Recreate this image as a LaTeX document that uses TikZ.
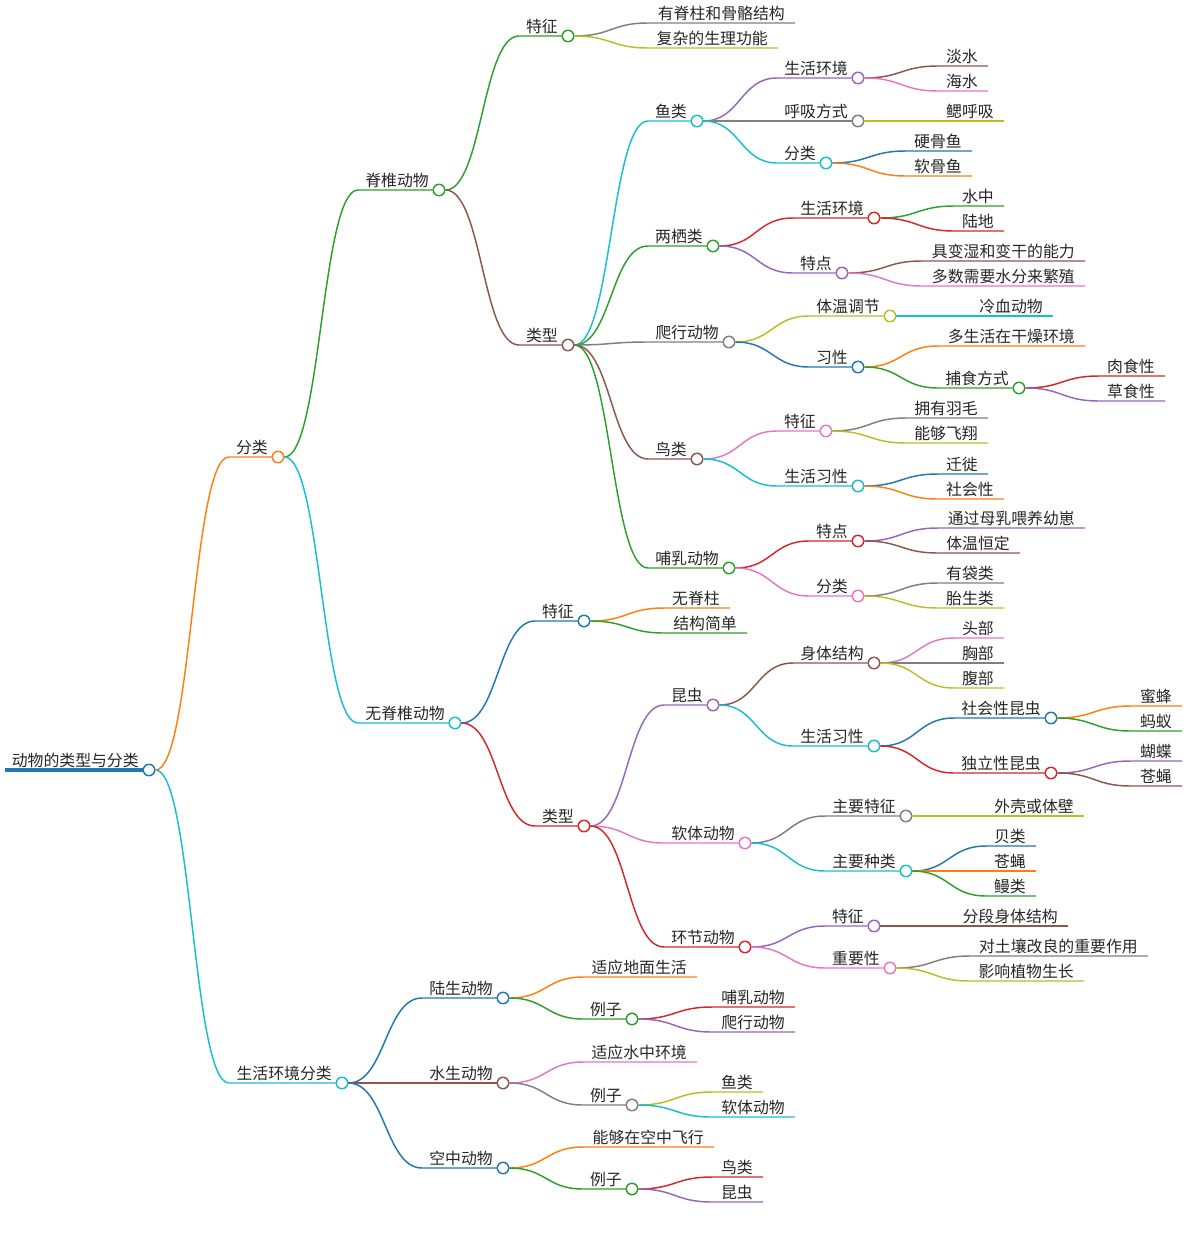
\documentclass[tikz,border=0pt]{standalone}
\usepackage{fontspec}
\setmainfont{Noto Sans CJK SC}
\usetikzlibrary{calc}
\definecolor{cblu}{HTML}{1F77B4}
\definecolor{corg}{HTML}{FF7F0E}
\definecolor{cgrn}{HTML}{2CA02C}
\definecolor{cred}{HTML}{D62728}
\definecolor{cpur}{HTML}{9467BD}
\definecolor{cbrn}{HTML}{8C564B}
\definecolor{cpnk}{HTML}{E377C2}
\definecolor{cgry}{HTML}{7F7F7F}
\definecolor{colv}{HTML}{BCBD22}
\definecolor{ccyn}{HTML}{17BECF}
\newcommand\mmbranch[7]{%
	\coordinate (#1-s) at (#4,#5);
	\draw[link=#3] let \p1=(#2.east),\p2=(#1-s) in (\p1) .. controls ({(\x1+\x2)/2},\y1) and ({(\x1+\x2)/2},\y2) .. (\p2) -- (#6-6,#5);
	\node[dot=#3] (#1) at (#6,#5) {};
	\node[lbl] (#1-t) at (#6-10,#5-3.5) {#7};}
\newcommand\mmleaf[7]{%
	\coordinate (#1-s) at (#4,#5);
	\draw[link=#3] let \p1=(#2.east),\p2=(#1-s) in (\p1) .. controls ({(\x1+\x2)/2},\y1) and ({(\x1+\x2)/2},\y2) .. (\p2) -- (#6,#5);
	\node[lbl] (#1) at (#6-10,#5-3.5) {#7};}

\begin{document}
\begin{tikzpicture}[x=0.75pt,y=-0.75pt,
	link/.style={draw=#1,line width=1.1pt},
	dot/.style={circle,draw=#1,fill=white,line width=1.1pt,minimum size=8.6pt,inner sep=0pt},
	lbl/.style={anchor=base east,inner sep=0pt,text=black!85,font=\fontsize{11.9pt}{14pt}\selectfont}]
	\useasboundingbox (0,0) rectangle (1187,1239);
	\coordinate (r-s) at (5,770);
	\draw[link=cblu,line width=3pt] (r-s) -- (143,770);
	\node[dot=cblu] (r) at (149,770) {};
	\node[lbl] (r-t) at (139,766.5) {动物的类型与分类};
	\mmbranch{r1}{r}{corg}{229}{457}{278}{分类}
	\mmbranch{r11}{r1}{cgrn}{358}{190}{439}{脊椎动物}
	\mmbranch{r111}{r11}{cgrn}{519}{36}{568}{特征}
	\mmleaf{r1111}{r111}{cgry}{648}{23}{795}{有脊柱和骨骼结构}
	\mmleaf{r1112}{r111}{colv}{648}{48}{778}{复杂的生理功能}
	\mmbranch{r112}{r11}{cbrn}{519}{345}{568}{类型}
	\mmbranch{r1121}{r112}{ccyn}{648}{121}{697}{鱼类}
	\mmbranch{r11211}{r1121}{cpur}{777}{78}{858}{生活环境}
	\mmleaf{r112111}{r11211}{cbrn}{938}{66}{988}{淡水}
	\mmleaf{r112112}{r11211}{cpnk}{938}{91}{988}{海水}
	\mmbranch{r11212}{r1121}{cgry}{777}{121}{858}{呼吸方式}
	\mmleaf{r112121}{r11212}{colv}{938}{121}{1004}{鳃呼吸}
	\mmbranch{r11213}{r1121}{ccyn}{777}{163}{826}{分类}
	\mmleaf{r112131}{r11213}{cblu}{906}{151}{972}{硬骨鱼}
	\mmleaf{r112132}{r11213}{corg}{906}{176}{972}{软骨鱼}
	\mmbranch{r1122}{r112}{cgrn}{648}{246}{713}{两栖类}
	\mmbranch{r11221}{r1122}{cred}{793}{218}{874}{生活环境}
	\mmleaf{r112211}{r11221}{cgrn}{954}{206}{1004}{水中}
	\mmleaf{r112212}{r11221}{cred}{954}{231}{1004}{陆地}
	\mmbranch{r11222}{r1122}{cpur}{793}{273}{842}{特点}
	\mmleaf{r112221}{r11222}{cbrn}{922}{261}{1085}{具变湿和变干的能力}
	\mmleaf{r112222}{r11222}{cpnk}{922}{286}{1085}{多数需要水分来繁殖}
	\mmbranch{r1123}{r112}{cgry}{648}{342}{729}{爬行动物}
	\mmbranch{r11231}{r1123}{colv}{809}{316}{890}{体温调节}
	\mmleaf{r112311}{r11231}{ccyn}{970}{316}{1053}{冷血动物}
	\mmbranch{r11232}{r1123}{cblu}{809}{367}{858}{习性}
	\mmleaf{r112321}{r11232}{corg}{938}{346}{1085}{多生活在干燥环境}
	\mmbranch{r112322}{r11232}{cgrn}{938}{388}{1019}{捕食方式}
	\mmleaf{r1123221}{r112322}{cred}{1099}{376}{1165}{肉食性}
	\mmleaf{r1123222}{r112322}{cpur}{1099}{401}{1165}{草食性}
	\mmbranch{r1124}{r112}{cbrn}{648}{459}{697}{鸟类}
	\mmbranch{r11241}{r1124}{cpnk}{777}{431}{826}{特征}
	\mmleaf{r112411}{r11241}{cgry}{906}{418}{988}{拥有羽毛}
	\mmleaf{r112412}{r11241}{colv}{906}{443}{988}{能够飞翔}
	\mmbranch{r11242}{r1124}{ccyn}{777}{486}{858}{生活习性}
	\mmleaf{r112421}{r11242}{cblu}{938}{474}{988}{迁徙}
	\mmleaf{r112422}{r11242}{corg}{938}{499}{1004}{社会性}
	\mmbranch{r1125}{r112}{cgrn}{648}{568}{729}{哺乳动物}
	\mmbranch{r11251}{r1125}{cred}{809}{541}{858}{特点}
	\mmleaf{r112511}{r11251}{cpur}{938}{528}{1085}{通过母乳喂养幼崽}
	\mmleaf{r112512}{r11251}{cbrn}{938}{553}{1020}{体温恒定}
	\mmbranch{r11252}{r1125}{cpnk}{809}{596}{858}{分类}
	\mmleaf{r112521}{r11252}{cgry}{938}{583}{1004}{有袋类}
	\mmleaf{r112522}{r11252}{colv}{938}{608}{1004}{胎生类}
	\mmbranch{r12}{r1}{ccyn}{358}{723}{455}{无脊椎动物}
	\mmbranch{r121}{r12}{cblu}{535}{621}{584}{特征}
	\mmleaf{r1211}{r121}{corg}{664}{608}{730}{无脊柱}
	\mmleaf{r1212}{r121}{cgrn}{664}{633}{747}{结构简单}
	\mmbranch{r122}{r12}{cred}{535}{826}{584}{类型}
	\mmbranch{r1221}{r122}{cpur}{664}{705}{713}{昆虫}
	\mmbranch{r12211}{r1221}{cbrn}{793}{663}{874}{身体结构}
	\mmleaf{r122111}{r12211}{cpnk}{954}{638}{1004}{头部}
	\mmleaf{r122112}{r12211}{cgry}{954}{663}{1004}{胸部}
	\mmleaf{r122113}{r12211}{colv}{954}{688}{1004}{腹部}
	\mmbranch{r12212}{r1221}{ccyn}{793}{746}{874}{生活习性}
	\mmbranch{r122121}{r12212}{cblu}{954}{718}{1051}{社会性昆虫}
	\mmleaf{r1221211}{r122121}{corg}{1131}{706}{1182}{蜜蜂}
	\mmleaf{r1221212}{r122121}{cgrn}{1131}{731}{1182}{蚂蚁}
	\mmbranch{r122122}{r12212}{cred}{954}{773}{1051}{独立性昆虫}
	\mmleaf{r1221221}{r122122}{cpur}{1131}{761}{1182}{蝴蝶}
	\mmleaf{r1221222}{r122122}{cbrn}{1131}{786}{1182}{苍蝇}
	\mmbranch{r1222}{r122}{cpnk}{664}{843}{745}{软体动物}
	\mmbranch{r12221}{r1222}{cgry}{825}{816}{906}{主要特征}
	\mmleaf{r122211}{r12221}{colv}{986}{816}{1084}{外壳或体壁}
	\mmbranch{r12222}{r1222}{ccyn}{825}{871}{906}{主要种类}
	\mmleaf{r122221}{r12222}{cblu}{986}{846}{1036}{贝类}
	\mmleaf{r122222}{r12222}{corg}{986}{871}{1036}{苍蝇}
	\mmleaf{r122223}{r12222}{cgrn}{986}{896}{1036}{鳗类}
	\mmbranch{r1223}{r122}{cred}{664}{947}{745}{环节动物}
	\mmbranch{r12231}{r1223}{cpur}{825}{926}{874}{特征}
	\mmleaf{r122311}{r12231}{cbrn}{954}{926}{1068}{分段身体结构}
	\mmbranch{r12232}{r1223}{cpnk}{825}{968}{890}{重要性}
	\mmleaf{r122321}{r12232}{cgry}{970}{956}{1148}{对土壤改良的重要作用}
	\mmleaf{r122322}{r12232}{colv}{970}{981}{1084}{影响植物生长}
	\mmbranch{r2}{r}{ccyn}{229}{1083}{342}{生活环境分类}
	\mmbranch{r21}{r2}{cblu}{422}{998}{503}{陆生动物}
	\mmleaf{r211}{r21}{corg}{583}{977}{697}{适应地面生活}
	\mmbranch{r212}{r21}{cgrn}{583}{1019}{632}{例子}
	\mmleaf{r2121}{r212}{cred}{712}{1007}{795}{哺乳动物}
	\mmleaf{r2122}{r212}{cpur}{712}{1032}{795}{爬行动物}
	\mmbranch{r22}{r2}{cbrn}{422}{1083}{503}{水生动物}
	\mmleaf{r221}{r22}{cpnk}{583}{1062}{697}{适应水中环境}
	\mmbranch{r222}{r22}{cgry}{583}{1105}{632}{例子}
	\mmleaf{r2221}{r222}{colv}{712}{1092}{763}{鱼类}
	\mmleaf{r2222}{r222}{ccyn}{712}{1117}{795}{软体动物}
	\mmbranch{r23}{r2}{cblu}{422}{1168}{503}{空中动物}
	\mmleaf{r231}{r23}{corg}{583}{1147}{714}{能够在空中飞行}
	\mmbranch{r232}{r23}{cgrn}{583}{1189}{632}{例子}
	\mmleaf{r2321}{r232}{cred}{712}{1177}{763}{鸟类}
	\mmleaf{r2322}{r232}{cpur}{712}{1202}{763}{昆虫}
\end{tikzpicture}
\end{document}
